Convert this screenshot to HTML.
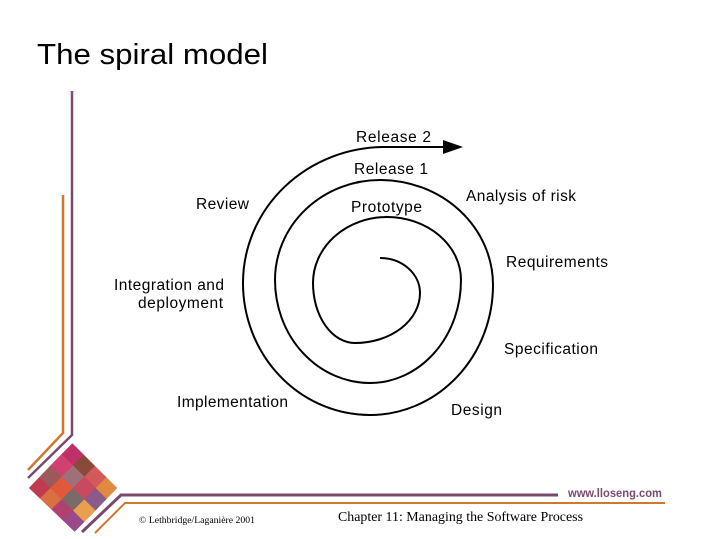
<!DOCTYPE html>
<html><head><meta charset="utf-8"><style>
html,body{margin:0;padding:0;background:#fff;overflow:hidden;width:719px;height:539px;}
svg{display:block;position:absolute;left:0;top:0;}
text{font-family:"Liberation Sans",sans-serif;fill:#000;}
</style></head><body>
<svg width="719" height="539" viewBox="0 0 719 539" xmlns="http://www.w3.org/2000/svg">
<defs>
<clipPath id="dia"><polygon points="72,443 117,488 75,532 29,488"/></clipPath>
</defs>
<text x="37" y="64" font-size="29" textLength="231" lengthAdjust="spacingAndGlyphs">The spiral model</text>
<polyline points="72,91 72,435 28,478" fill="none" stroke="#7a4a6e" stroke-width="2.5"/>
<polyline points="63,195 63,433 28,470" fill="none" stroke="#d0782e" stroke-width="2.5"/>
<polyline points="82,532 121,495 558,495" fill="none" stroke="#7a4a6e" stroke-width="3"/>
<polyline points="95,533 125,503 665,503" fill="none" stroke="#d0782e" stroke-width="2"/>
<g clip-path="url(#dia)">
<g transform="rotate(45 73 488)">
<rect x="41" y="456" width="64" height="64" fill="#b24a5a"/>
<rect x="41" y="456" width="16" height="16" fill="#c0306a"/>
<rect x="57" y="456" width="16" height="16" fill="#8a4a3a"/>
<rect x="73" y="456" width="16" height="16" fill="#d35a5a"/>
<rect x="89" y="456" width="16" height="16" fill="#e08a40"/>
<rect x="41" y="472" width="16" height="16" fill="#d04070"/>
<rect x="57" y="472" width="16" height="16" fill="#a0707a"/>
<rect x="73" y="472" width="16" height="16" fill="#c84a60"/>
<rect x="89" y="472" width="16" height="16" fill="#8a5a8a"/>
<rect x="41" y="488" width="16" height="16" fill="#9a5a5a"/>
<rect x="57" y="488" width="16" height="16" fill="#e05a3a"/>
<rect x="73" y="488" width="16" height="16" fill="#7a6a6a"/>
<rect x="89" y="488" width="16" height="16" fill="#e8a050"/>
<rect x="41" y="504" width="16" height="16" fill="#c03a50"/>
<rect x="57" y="504" width="16" height="16" fill="#d87040"/>
<rect x="73" y="504" width="16" height="16" fill="#b04070"/>
<rect x="89" y="504" width="16" height="16" fill="#9a4a8a"/>
</g>
</g>
<path d="M380,258 A40,35 0 0 1 420,293 A65,50 0 0 1 355,343 A42,60 0 0 1 313,283 A74,66 0 0 1 387,217 A74,63 0 0 1 461,280 A91,103 0 0 1 370,383 A95,103 0 0 1 275,280 A105,100 0 0 1 380,180 A113,105 0 0 1 493,285 A123,130 0 0 1 370,415 A127,132 0 0 1 243,283 A142,136 0 0 1 385,147 L448,147" fill="none" stroke="#000" stroke-width="2"/>
<polygon points="443,140 463,147 443,154" fill="#000"/>
<g font-size="15.5" lengthAdjust="spacingAndGlyphs">
<text x="356" y="142" textLength="75">Release 2</text>
<text x="354" y="174" textLength="74">Release 1</text>
<text x="351" y="212" textLength="71">Prototype</text>
<text x="196" y="209" textLength="53">Review</text>
<text x="466" y="201" textLength="110">Analysis of risk</text>
<text x="506" y="267" textLength="102">Requirements</text>
<text x="114" y="290" textLength="110">Integration and</text>
<text x="138" y="308" textLength="85">deployment</text>
<text x="504" y="354" textLength="94">Specification</text>
<text x="177" y="407" textLength="111">Implementation</text>
<text x="451" y="415" textLength="51">Design</text>
</g>
<text x="568" y="497" font-size="12" style="fill:#7a4a6e" font-weight="bold" textLength="94" lengthAdjust="spacingAndGlyphs">www.lloseng.com</text>
<text x="139" y="523" font-size="9" style="font-family:'Liberation Serif',serif" textLength="116" lengthAdjust="spacingAndGlyphs">© Lethbridge/Laganière 2001</text>
<text x="338" y="521" font-size="14" style="font-family:'Liberation Serif',serif" textLength="245" lengthAdjust="spacingAndGlyphs">Chapter 11: Managing the Software Process</text>
</svg>
</body></html>
